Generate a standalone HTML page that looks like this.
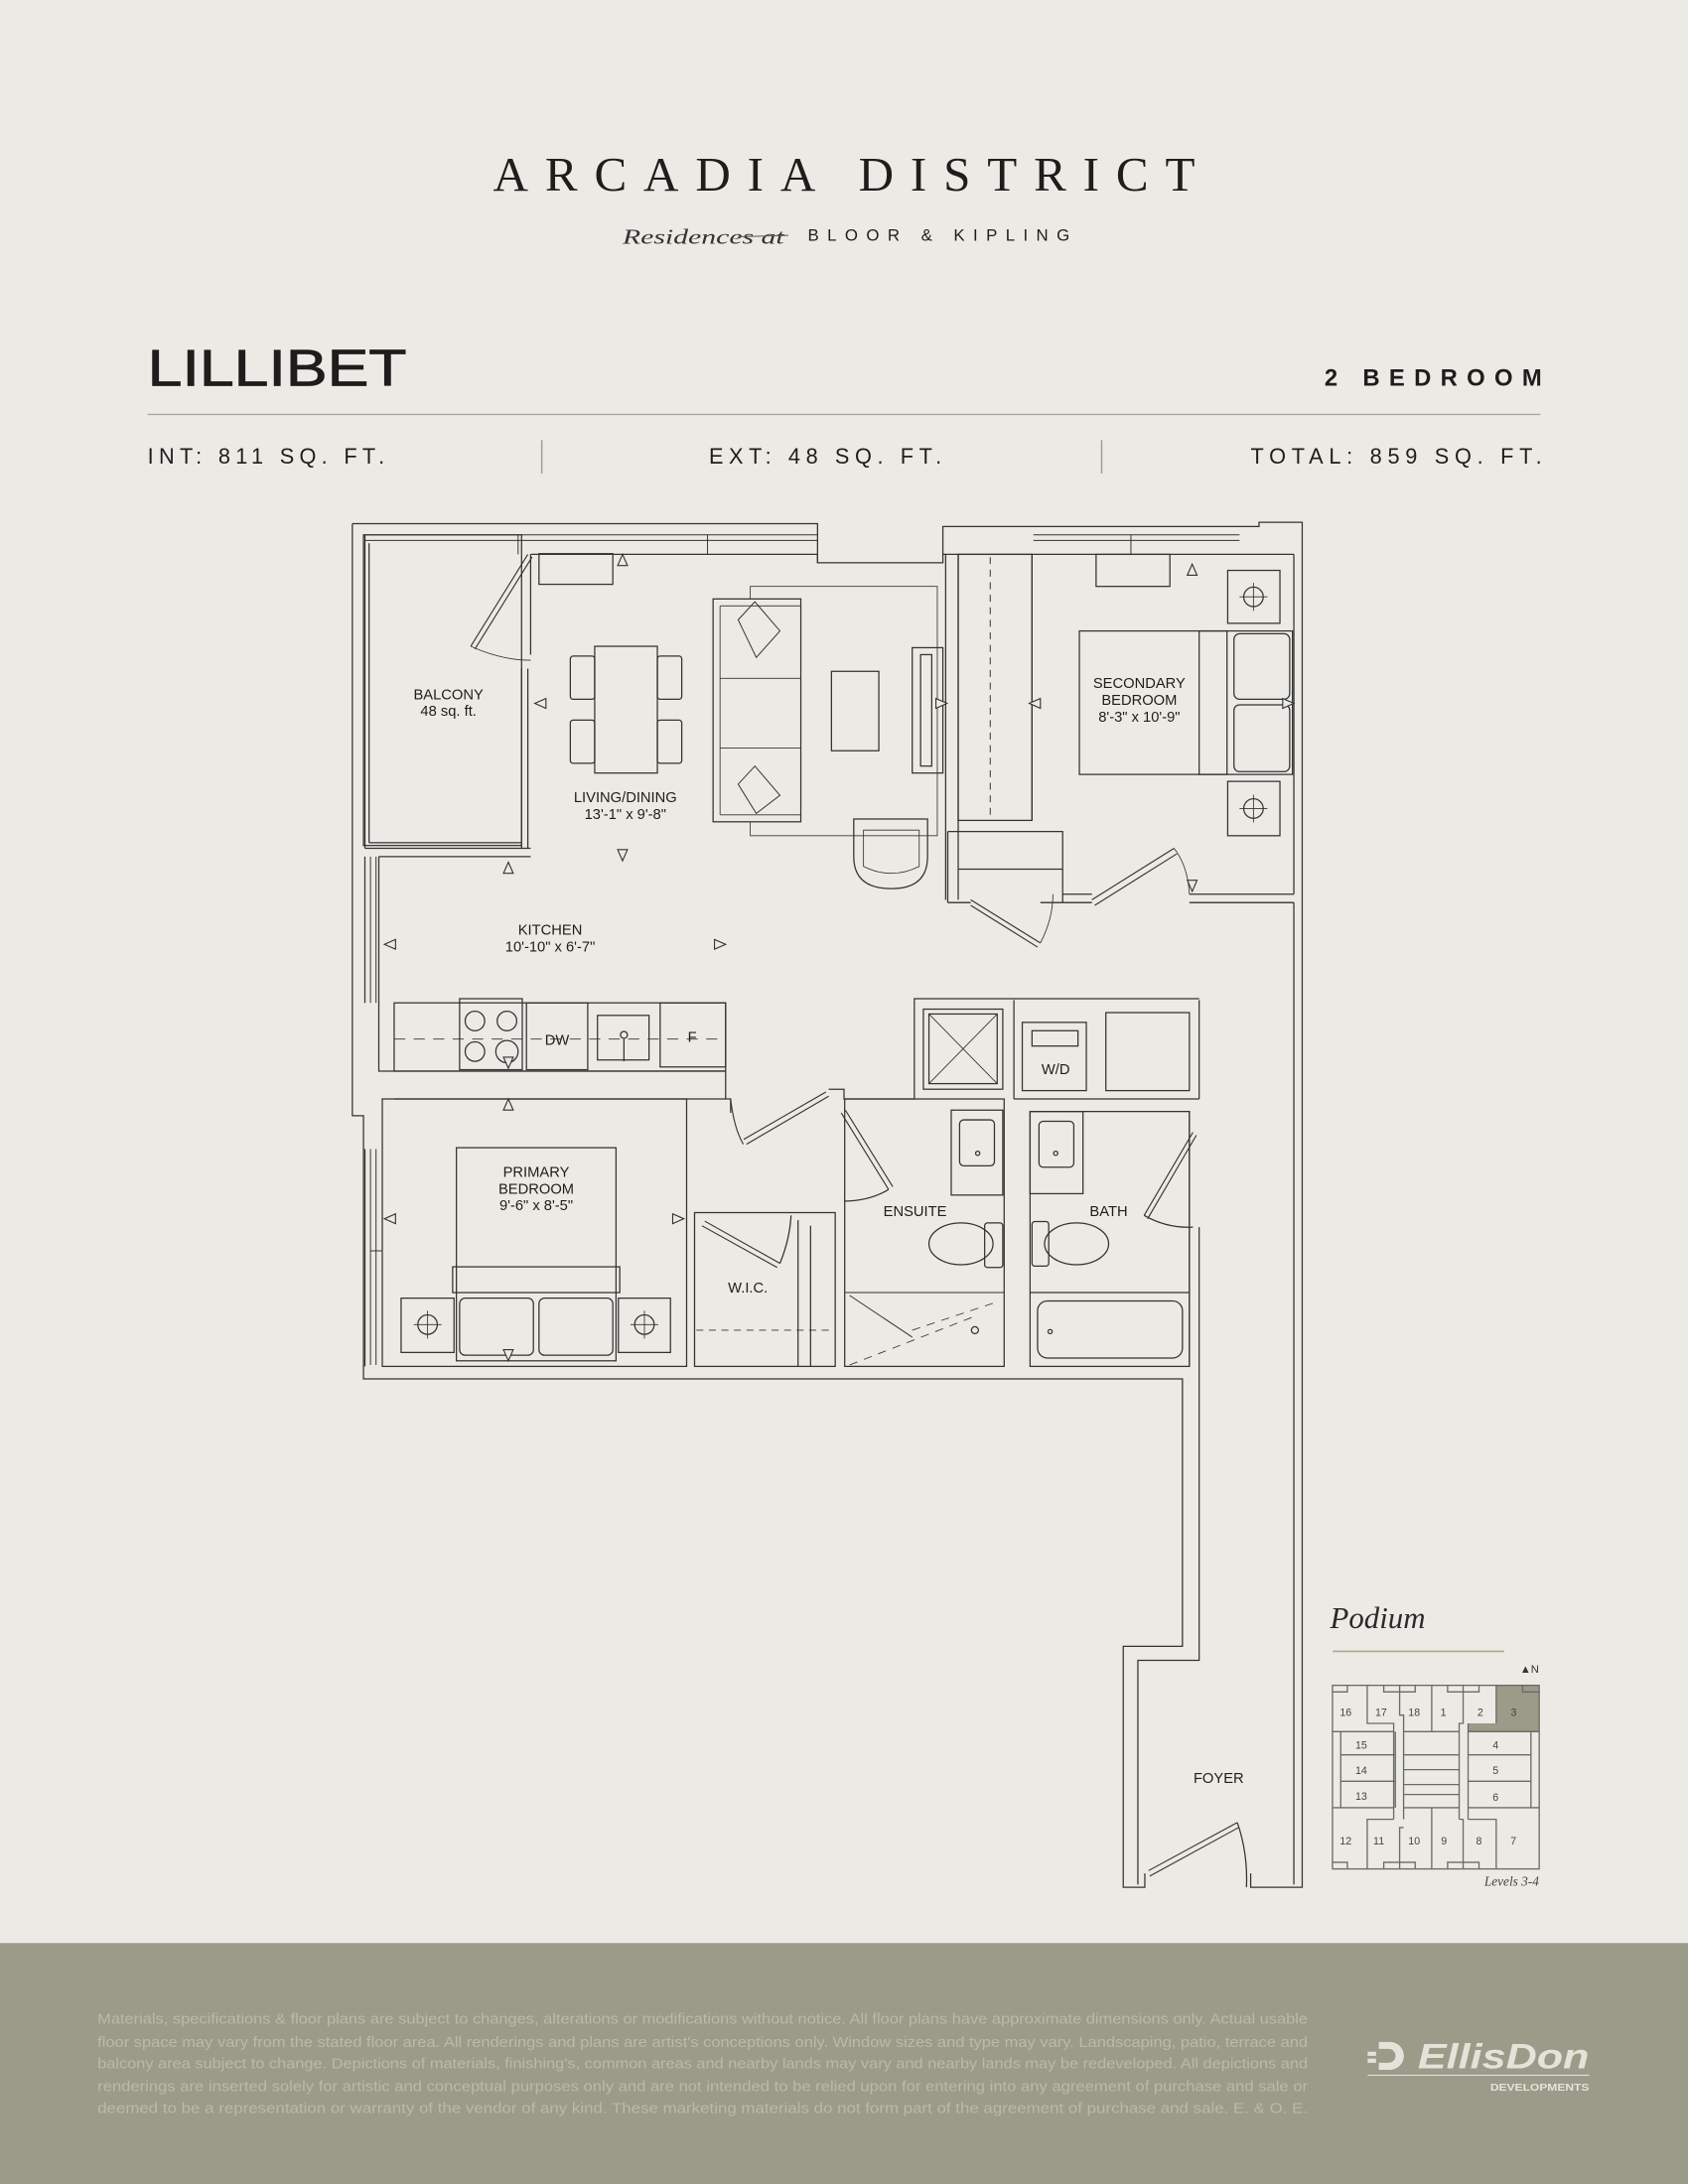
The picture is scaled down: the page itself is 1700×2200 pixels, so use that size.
<!DOCTYPE html>
<html><head><meta charset="utf-8"><style>
html,body{margin:0;padding:0;background:#ECEAE5;}
svg{display:block}
</style></head><body>
<svg width="1700" height="2200" viewBox="0 0 1212 1568" preserveAspectRatio="none" xmlns="http://www.w3.org/2000/svg">
<rect width="1212" height="1568" fill="#ECEAE5"/>
<!-- Header -->
<text x="354" y="137" font-family="Liberation Serif, serif" font-size="35" fill="#1f1d1c" textLength="504" lengthAdjust="spacing">ARCADIA DISTRICT</text>
<text x="447" y="175" font-family="Liberation Serif, serif" font-style="italic" font-size="15" fill="#333" textLength="116" lengthAdjust="spacingAndGlyphs">Residences at</text>
<line x1="530" y1="170" x2="566" y2="169" stroke="#555" stroke-width="0.7"/>
<text x="580" y="173" font-family="Liberation Sans, sans-serif" font-size="12" fill="#1f1d1c" textLength="188" lengthAdjust="spacing">BLOOR &amp; KIPLING</text>
<text x="106" y="277" font-family="Liberation Sans, sans-serif" font-size="37" fill="#1f1d1c" stroke="#1f1d1c" stroke-width="0.6" textLength="186" lengthAdjust="spacingAndGlyphs">LILLIBET</text>
<text x="951" y="277" font-family="Liberation Sans, sans-serif" font-weight="bold" font-size="17" fill="#1f1d1c" textLength="156" lengthAdjust="spacing">2 BEDROOM</text>
<line x1="106" y1="297.5" x2="1106" y2="297.5" stroke="#aaa7a0" stroke-width="1"/>
<g font-family="Liberation Sans, sans-serif" font-size="15.5" fill="#1f1d1c">
<text x="106" y="333" textLength="170" lengthAdjust="spacing">INT: 811 SQ. FT.</text>
<text x="509" y="333" textLength="167" lengthAdjust="spacing">EXT: 48 SQ. FT.</text>
<text x="898" y="333" textLength="209" lengthAdjust="spacing">TOTAL: 859 SQ. FT.</text>
</g>
<line x1="389" y1="316" x2="389" y2="340" stroke="#999" stroke-width="1"/>
<line x1="791" y1="316" x2="791" y2="340" stroke="#999" stroke-width="1"/>

<!-- Floor plan -->
<g fill="none" stroke="#333" stroke-width="0.9">
<!-- outer boundary -->
<path d="M253,376 H587 V404 H677 V378 H904 V375 H935 V1355 H898 V1345"/>
<path d="M253,376 V801 H261 V990 H849 V1182 H806.5 V1355 H822 V1345"/>
<path d="M262,384 V609 M262,615 V720 M262,825 V981"/>
<path d="M929,398 V642 M929,648 V1353 M861,718 V789 M854,798 V981 M861,881 V1192 H817 V1353"/>
<!-- windows -->
<path d="M262,384 H587 M262,388 H587 M372,384 V398 M508,384 V398" stroke-width="0.7"/>
<path d="M742,384 H890 M742,388 H890 M812,384 V398" stroke-width="0.7"/>
<path d="M266,615 V720 M270,615 V720 M266,825 V980 M270,825 V980 M266,898 H274" stroke-width="0.7"/>
<!-- balcony -->
<rect x="261" y="384" width="113.5" height="223"/>
<path d="M265,390 V605 M265,605 H374"/>
<path d="M374.5,480 V609 M379,480 V609 M381,398 V470"/>
<path d="M338,464 L379,398 M341,466 L382,400" stroke-width="0.8"/>
<path d="M338,464 Q360,474 381,474" stroke-width="0.6"/>
<path d="M262,609 H381 M272,615 H381 M272,615 V722"/>
<!-- living interior -->
<path d="M381,398 H587 M587,398 V404 M677,398 H741"/>
<path d="M679,398 V646 M688,398 V646"/>
<rect x="688" y="398" width="53" height="191"/>
<path d="M711,400 V589" stroke-dasharray="5,4" stroke-width="0.7"/>
<path d="M680.5,597 H763 V648 M680.5,597 V648 M688,624 H763" />
<path d="M688,624 H763" stroke-dasharray="4,3" stroke-width="0.6"/>
<path d="M741,398 H929 M741,398 V589 M763,642 H784 M854,642 H929 M763,648 H784 M854,648 H929 M680.5,648 H697 M747,648 H763"/>
<path d="M697,646 L747,677 M697,650 L745,680" stroke-width="0.8"/>
<path d="M747,677 Q756,660 756,642" stroke-width="0.6"/>
<path d="M784,646 L843,609 M786,650 L845,613" stroke-width="0.8"/>
<path d="M843,609 Q853,622 854,642" stroke-width="0.6"/>
<!-- living furniture -->
<rect x="387" y="397.5" width="53" height="22"/>
<rect x="427" y="464" width="45" height="91"/>
<rect x="409.5" y="471" width="17.5" height="31" rx="2"/><rect x="409.5" y="517" width="17.5" height="31" rx="2"/>
<rect x="472" y="471" width="17.5" height="31" rx="2"/><rect x="472" y="517" width="17.5" height="31" rx="2"/>
<rect x="538.7" y="421" width="134.3" height="179" stroke-width="0.6"/>
<rect x="512" y="430" width="63" height="160" fill="#ECEAE5"/>
<path d="M517,435 V585 M517,435 H575 M517,585 H575 M517,487 H575 M517,537 H575" stroke-width="0.6"/>
<path d="M530,445 L542,432 L560,453 L543,472 Z M530,563 L542,550 L560,571 L543,584 Z" stroke-width="0.7"/>
<rect x="597" y="482" width="34" height="57"/>
<rect x="655" y="465" width="22" height="90"/><rect x="661" y="470" width="8" height="80"/>
<path d="M613,588 H666 V615 Q666,638 640,638 Q613,638 613,615 Z"/>
<path d="M620,596 H660 V622 Q640,632 620,622 Z" stroke-width="0.6"/>
<!-- secondary bedroom furniture -->
<rect x="787" y="398" width="53" height="23"/>
<rect x="881.5" y="409.5" width="37.5" height="38"/><circle cx="900" cy="428.5" r="7"/><path d="M890,428.5 H910 M900,418.5 V438.5" stroke-width="0.6"/>
<rect x="881.5" y="561" width="37.5" height="39"/><circle cx="900" cy="580.5" r="7"/><path d="M890,580.5 H910 M900,570.5 V590.5" stroke-width="0.6"/>
<rect x="775" y="453" width="153" height="103"/>
<rect x="861" y="453" width="20" height="103"/>
<rect x="886" y="455" width="40" height="47" rx="4"/><rect x="886" y="506" width="40" height="48" rx="4"/>
<!-- kitchen counter -->
<rect x="283" y="720" width="238" height="49"/>
<path d="M283,746 H520" stroke-dasharray="8,6" stroke-width="0.6"/>
<rect x="330" y="717" width="45" height="51"/>
<circle cx="341" cy="733" r="7"/><circle cx="364" cy="733" r="7"/><circle cx="341" cy="755" r="7"/><circle cx="364" cy="755" r="8"/>
<rect x="378" y="720" width="44" height="48"/>
<rect x="429" y="729" width="37" height="32"/><circle cx="448" cy="743" r="2.5"/><path d="M448,746 V762"/>
<rect x="474" y="720" width="47" height="46"/>
<!-- kitchen / primary wall -->
<path d="M272,722 V769 H283 M283,769 H521 V789 M283,789 H524.6 V799"/>
<path d="M524.6,789 Q527,810 533.7,821.5 M536,821.5 L595,787 M534,818 L593,784" stroke-width="0.8"/>
<path d="M595,782 H606 V789 H656.5 V717 H861"/>
<!-- primary bedroom -->
<rect x="274.5" y="789" width="218.5" height="192"/>
<rect x="327.7" y="824" width="114.6" height="153"/>
<rect x="325" y="909.5" width="120" height="18.5"/>
<rect x="330" y="932" width="53" height="41" rx="4"/><rect x="387" y="932" width="53" height="41" rx="4"/>
<rect x="288" y="932" width="38" height="39"/><circle cx="307" cy="951" r="7"/><path d="M297,951 H317 M307,941 V961" stroke-width="0.6"/>
<rect x="444" y="932" width="37.4" height="39"/><circle cx="462.7" cy="951" r="7"/><path d="M452.7,951 H472.7 M462.7,941 V961" stroke-width="0.6"/>
<!-- WIC -->
<rect x="498.7" y="870.6" width="101" height="110.4"/>
<path d="M506,876.7 L560,907 M504,880 L558,910" stroke-width="0.8"/>
<path d="M560,907 Q567,890 568,872.6"/>
<path d="M573,876 V981 M582,880 V981" />
<path d="M500,955 H599" stroke-dasharray="5,4" stroke-width="0.6"/>
<!-- ensuite -->
<rect x="606.5" y="789" width="114.5" height="192"/>
<path d="M604,799 L638,854 M607,797 L641,852" stroke-width="0.8"/>
<path d="M638,854 Q625,862 606.4,862.4"/>
<rect x="683" y="797" width="37" height="61"/><rect x="689" y="804" width="25" height="33" rx="3"/><circle cx="702" cy="828" r="1.5"/>
<ellipse cx="690" cy="893" rx="23" ry="15"/><rect x="707" y="878" width="13" height="32" rx="2"/>
<path d="M606.5,928 H721 M610,930 L655,960" stroke-width="0.7"/>
<path d="M610,980 L700,945 M655,955 L715,935" stroke-dasharray="6,5" stroke-width="0.6"/>
<circle cx="700" cy="955" r="2.5"/>
<!-- laundry/mech -->
<rect x="663" y="724.5" width="57" height="57.5"/><rect x="667" y="728" width="49" height="50"/><path d="M667,728 L716,778 M716,728 L667,778" stroke-width="0.6"/>
<path d="M728,789 V718 M728,789 H861"/>
<rect x="734" y="734" width="46" height="49"/><rect x="741" y="740" width="33" height="11"/>
<rect x="794" y="727" width="60" height="56"/>
<!-- bath -->
<rect x="739.6" y="798" width="114.4" height="183"/>
<rect x="739.6" y="798" width="38" height="59"/><rect x="746" y="805" width="25" height="33" rx="3"/><circle cx="758" cy="828" r="1.5"/>
<ellipse cx="773" cy="893" rx="23" ry="15"/><rect x="741" y="877" width="12" height="32" rx="2"/>
<path d="M739.6,928 H854"/>
<rect x="745" y="934" width="104" height="41" rx="7"/><circle cx="754" cy="956" r="1.5"/>
<path d="M856.5,813 L821.5,872.6 M859,815 L824,875" stroke-width="0.8"/>
<path d="M821.5,872.6 Q838,882 856.5,881"/>
<!-- foyer door -->
<path d="M824.7,1343 L888.4,1308.5 M825.5,1347 L889.5,1312" stroke-width="0.8"/>
<path d="M888.4,1308.5 Q896,1330 895,1355"/>
</g>
<!-- arrows -->
<g fill="#ECEAE5" stroke="#333" stroke-width="0.8">
<path d="M447,398 l-3.5,8 h7z"/><path d="M856,405 l-3.5,8 h7z"/>
<path d="M384,505 l8,-3.5 v7z"/><path d="M680,505 l-8,-3.5 v7z"/>
<path d="M739,505 l8,-3.5 v7z"/><path d="M929,505 l-8,-3.5 v7z"/>
<path d="M447,618 l-3.5,-8 h7z"/><path d="M365,619 l-3.5,8 h7z"/>
<path d="M276,678 l8,-3.5 v7z"/><path d="M521,678 l-8,-3.5 v7z"/>
<path d="M365,767 l-3.5,-8 h7z"/><path d="M365,789 l-3.5,8 h7z"/>
<path d="M276,875 l8,-3.5 v7z"/><path d="M491,875 l-8,-3.5 v7z"/>
<path d="M365,977 l-3.5,-8 h7z"/><path d="M856,640 l-3.5,-8 h7z"/>
</g>
<!-- labels -->
<g font-family="Liberation Sans, sans-serif" font-size="10.5" fill="#1f1d1c" text-anchor="middle">
<text x="322" y="502">BALCONY</text><text x="322" y="514">48 sq. ft.</text>
<text x="449" y="576">LIVING/DINING</text><text x="449" y="588">13'-1" x 9'-8"</text>
<text x="818" y="494">SECONDARY</text><text x="818" y="506">BEDROOM</text><text x="818" y="518">8'-3" x 10'-9"</text>
<text x="395" y="671">KITCHEN</text><text x="395" y="683">10'-10" x 6'-7"</text>
<text x="400" y="750">DW</text><text x="497" y="748">F</text><text x="758" y="771">W/D</text>
<text x="385" y="845">PRIMARY</text><text x="385" y="857">BEDROOM</text><text x="385" y="869">9'-6" x 8'-5"</text>
<text x="657" y="873">ENSUITE</text><text x="796" y="873">BATH</text>
<text x="537" y="928">W.I.C.</text><text x="875" y="1280">FOYER</text>
</g>

<!-- Podium key -->
<text x="955" y="1169" font-family="Liberation Serif, serif" font-style="italic" font-size="22" fill="#2a2a2a">Podium</text>
<line x1="957" y1="1185.6" x2="1080" y2="1185.6" stroke="#aaa894" stroke-width="1.2"/>
<text x="1105" y="1201" font-family="Liberation Sans, sans-serif" font-size="8" fill="#333" text-anchor="end">▲N</text>
<g transform="translate(941.3,1141.1) scale(0.2375)">
<path d="M560,290 H690 V430 H475 V405 H560 Z" fill="#9a9b88"/>
<g fill="none" stroke="#6b6b66" stroke-width="4">
<rect x="65" y="290" width="625" height="555"/>
<path d="M65,430 H250 M280,430 H448 M475,430 H690"/>
<path d="M65,660 H250 M280,660 H448 M475,660 H690"/>
<path d="M170,290 V405 H250 V695 M268,290 V315 M268,315 V380 H280 V695 M365,290 V430 M460,290 V405 H448 V695 M560,290 V405 M475,405 V695"/>
<path d="M90,430 V660 M255,430 V660 M90,500 H255 M90,580 H255 M665,430 V660 M475,500 H665 M475,580 H665"/>
<path d="M280,500 H448 M280,545 H448 M280,590 H448 M280,620 H448"/>
<path d="M170,845 V695 H250 M268,845 V720 H280 M365,660 V845 M460,845 V695 H448 M560,845 V695 H475"/>
<path d="M65,310 H110 V290 M220,290 V310 H315 V290 M413,290 V310 H508 V290 M640,290 V310 H690"/>
<path d="M65,825 H110 V845 M220,845 V825 H315 V845 M413,845 V825 H508 V845"/>
</g>
<g font-family="Liberation Sans, sans-serif" font-size="32" fill="#444" text-anchor="middle">
<text x="105" y="383">16</text><text x="212" y="383">17</text><text x="312" y="383">18</text><text x="400" y="383">1</text><text x="512" y="383">2</text><text x="613" y="383">3</text>
<text x="152" y="481">15</text><text x="152" y="558">14</text><text x="152" y="636">13</text>
<text x="558" y="481">4</text><text x="558" y="558">5</text><text x="558" y="639">6</text>
<text x="105" y="771">12</text><text x="205" y="771">11</text><text x="312" y="771">10</text><text x="402" y="771">9</text><text x="508" y="771">8</text><text x="612" y="771">7</text>
</g>
</g>
<text x="1105" y="1354" font-family="Liberation Serif, serif" font-style="italic" font-size="9.5" fill="#444" text-anchor="end">Levels 3-4</text>

<!-- Footer -->
<rect x="0" y="1395" width="1212" height="173" fill="#9A9B89"/>
<g font-family="Liberation Sans, sans-serif" font-size="10.5" fill="#B9BAAB">
<text x="70" y="1453" textLength="869" lengthAdjust="spacingAndGlyphs">Materials, specifications &amp; floor plans are subject to changes, alterations or modifications without notice. All floor plans have approximate dimensions only. Actual usable</text>
<text x="70" y="1469.5" textLength="869" lengthAdjust="spacingAndGlyphs">floor space may vary from the stated floor area. All renderings and plans are artist's conceptions only. Window sizes and type may vary. Landscaping, patio, terrace and</text>
<text x="70" y="1485" textLength="869" lengthAdjust="spacingAndGlyphs">balcony area subject to change. Depictions of materials, finishing's, common areas and nearby lands may vary and nearby lands may be redeveloped. All depictions and</text>
<text x="70" y="1501.5" textLength="869" lengthAdjust="spacingAndGlyphs">renderings are inserted solely for artistic and conceptual purposes only and are not intended to be relied upon for entering into any agreement of purchase and sale or</text>
<text x="70" y="1517" textLength="869" lengthAdjust="spacingAndGlyphs">deemed to be a representation or warranty of the vendor of any kind. These marketing materials do not form part of the agreement of purchase and sale. E. &amp; O. E.</text>
</g>
<g fill="#E4E3DA">
<path d="M990,1466 h8 a10,10 0 0 1 0,20 h-8 v-5 h7 a5,5 0 0 0 0,-10 h-7z"/>
<rect x="982" y="1473" width="6" height="3"/><rect x="982" y="1478" width="6" height="3"/>
<text x="1018" y="1485" font-family="Liberation Sans, sans-serif" font-weight="bold" font-style="italic" font-size="25" textLength="123" lengthAdjust="spacingAndGlyphs">EllisDon</text>
<rect x="982" y="1489.5" width="159" height="0.8"/>
<text x="1141" y="1501" font-family="Liberation Sans, sans-serif" font-weight="bold" font-size="7" text-anchor="end" textLength="71" lengthAdjust="spacingAndGlyphs">DEVELOPMENTS</text>
</g>
</svg>
</body></html>
